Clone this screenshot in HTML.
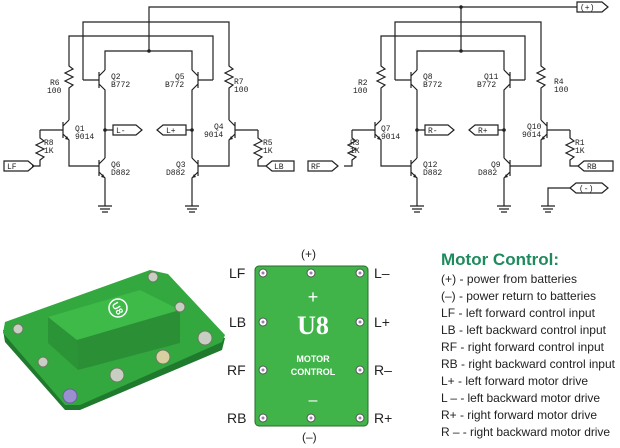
<!DOCTYPE html>
<html><head><meta charset="utf-8"><style>
html,body{margin:0;padding:0;background:#fff;}
svg{display:block;}
.w{stroke:#222;stroke-width:1.2;fill:none;}
.t{font-family:"Liberation Mono",monospace;font-size:8px;fill:#222;}
</style></head><body>
<svg width="620" height="448" viewBox="0 0 620 448" xmlns="http://www.w3.org/2000/svg">
<defs>
<g id="half">
  <path class="w" d="M83 80 V22 H229 V62"/>
  <path class="w" d="M69 62 V36 H213 V80"/>
  <path class="w" d="M105 70 V51 H192 V70"/>
  <path class="w" d="M69 62 V66 l4 3 l-8 4 l8 4 l-8 4 l8 4 l-4 3 V120"/>
  <path class="w" d="M229 62 V66 l4 3 l-8 4 l8 4 l-8 4 l8 4 l-4 3 V120"/>
  <path class="w" d="M83 80 H99 M99 72 V88 M99 76 L105 70 M99 84 L105 90 V158"/>
  <path class="w" d="M213 80 H198 M198 72 V88 M198 76 L192 70 M198 84 L192 90 V158"/>
  <path class="w" d="M40 130 H63 M63 122 V138 M63 126 L69 120 M63 134 L69 140 V166 H99"/>
  <path d="M69 140 l-4 -1 l2 -3 z" fill="#222"/>
  <path class="w" d="M40 130 V138 l4 3 l-8 4 l8 4 l-8 4 l8 4 l-4 3 V166 H32"/>
  <path class="w" d="M99 160 V176 M99 164 L105 158 M99 172 L105 178 V206"/>
  <path d="M105 178 l-4 -1 l2 -3 z" fill="#222"/>
  <path class="w" d="M258 130 H235 M235 122 V138 M235 126 L229 120 M235 134 L229 140 V166 H198"/>
  <path d="M229 140 l4 -1 l-2 -3 z" fill="#222"/>
  <path class="w" d="M258 130 V138 l4 3 l-8 4 l8 4 l-8 4 l8 4 l-4 3 V166 H266"/>
  <path class="w" d="M198 160 V176 M198 164 L192 158 M198 172 L192 178 V206"/>
  <path d="M192 178 l4 -1 l-2 -3 z" fill="#222"/>
  <circle cx="105" cy="130" r="1.8" fill="#222"/>
  <circle cx="192" cy="130" r="1.8" fill="#222"/>
  <path class="w" d="M105 130 H113 M192 130 H186"/>
  <path class="w" d="M98 206 H112 M100 209 H110 M102 212 H108 M185 206 H199 M187 209 H197 M189 212 H195"/>
</g>
</defs>
<path class="w" d="M149 51 V7 H577"/>
<circle cx="149" cy="51" r="1.8" fill="#222"/>
<path class="w" d="M461 7 V51"/>
<circle cx="461" cy="7" r="1.8" fill="#222"/>
<circle cx="461" cy="51" r="1.8" fill="#222"/>
<use href="#half"/>
<use href="#half" transform="translate(312,0)"/>
<path class="w" d="M4 161 H28 L34 166 L28 171 H4 Z"/>
<text class="t" x="7" y="169">LF</text>
<path class="w" d="M113 125 H136 L142 130 L136 135 H113 Z"/>
<text class="t" x="116" y="133">L-</text>
<path class="w" d="M157 130 L163 125 H186 V135 H163 Z"/>
<text class="t" x="166" y="133">L+</text>
<path class="w" d="M266 166 L272 161 H294 V171 H272 Z"/>
<text class="t" x="274" y="169">LB</text>
<path class="w" d="M308 161 H332 L338 166 L332 171 H308 Z"/>
<text class="t" x="311" y="169">RF</text>
<path class="w" d="M425 125 H448 L454 130 L448 135 H425 Z"/>
<text class="t" x="428" y="133">R-</text>
<path class="w" d="M469 130 L475 125 H498 V135 H475 Z"/>
<text class="t" x="478" y="133">R+</text>
<path class="w" d="M578 166 L584 161 H613 V171 H584 Z"/>
<text class="t" x="587" y="169">RB</text>
<path class="w" d="M577 2 H602 L608 7 L602 12 H577 Z"/>
<text class="t" x="580" y="10">(+)</text>
<path class="w" d="M548 206 V188 H570"/>
<path class="w" d="M570 188 L576 183 H602 L608 188 L602 193 H576 Z"/>
<text class="t" x="579" y="191">(-)</text>
<path class="w" d="M541 206 H555 M543 209 H553 M545 212 H551"/>
<text class="t" x="50" y="85">R6</text><text class="t" x="47" y="93">100</text>
<text class="t" x="111" y="79">Q2</text><text class="t" x="111" y="87">B772</text>
<text class="t" x="175" y="79">Q5</text><text class="t" x="165" y="87">B772</text>
<text class="t" x="234" y="84">R7</text><text class="t" x="234" y="92">100</text>
<text class="t" x="75" y="131">Q1</text><text class="t" x="75" y="139">9014</text>
<text class="t" x="44" y="145">R8</text><text class="t" x="44" y="153">1K</text>
<text class="t" x="111" y="167">Q6</text><text class="t" x="111" y="175">D882</text>
<text class="t" x="176" y="167">Q3</text><text class="t" x="166" y="175">D882</text>
<text class="t" x="214" y="129">Q4</text><text class="t" x="204" y="137">9014</text>
<text class="t" x="263" y="145">R5</text><text class="t" x="263" y="153">1K</text>
<text class="t" x="358" y="85">R2</text><text class="t" x="353" y="93">100</text>
<text class="t" x="423" y="79">Q8</text><text class="t" x="423" y="87">B772</text>
<text class="t" x="484" y="79">Q11</text><text class="t" x="477" y="87">B772</text>
<text class="t" x="554" y="84">R4</text><text class="t" x="554" y="92">100</text>
<text class="t" x="381" y="131">Q7</text><text class="t" x="381" y="139">9014</text>
<text class="t" x="350" y="145">R3</text><text class="t" x="350" y="153">1K</text>
<text class="t" x="423" y="167">Q12</text><text class="t" x="423" y="175">D882</text>
<text class="t" x="491" y="167">Q9</text><text class="t" x="478" y="175">D882</text>
<text class="t" x="527" y="129">Q10</text><text class="t" x="522" y="137">9014</text>
<text class="t" x="575" y="145">R1</text><text class="t" x="575" y="153">1K</text>

<!-- photo board -->
<polygon points="3,330 5,342 65,410 80,410 222,350 225,338" fill="#1f7a2e"/>
<polygon points="5,322 150,270 168,274 225,335 222,342 80,405 65,405 3,333" fill="#33a83f"/>
<polygon points="48,317 77,340 78,370 48,343" fill="#2b9436"/>
<polygon points="48,317 140,290 180,310 77,340" fill="#3dba48"/>
<polygon points="77,340 180,310 180,343 78,370" fill="#2a8f35"/>
<circle cx="118" cy="308" r="9" fill="none" stroke="#fff" stroke-width="1.5"/>
<text x="118" y="312" text-anchor="middle" transform="rotate(60 118 308)" font-family="Liberation Sans,sans-serif" font-size="10" font-weight="bold" fill="#fff">U8</text>
<g fill="#c8cfc2" stroke="#6b7a60" stroke-width="1">
<circle cx="18" cy="329" r="5"/><circle cx="43" cy="362" r="5"/>
<circle cx="117" cy="375" r="7"/><circle cx="163" cy="357" r="7" fill="#d8d0a0"/>
<circle cx="205" cy="338" r="7"/><circle cx="180" cy="307" r="5"/><circle cx="153" cy="277" r="5"/>
</g>
<circle cx="70" cy="396" r="7" fill="#9a8fd0" stroke="#6a5fa0"/>

<rect x="255" y="266" width="113" height="160" rx="4" fill="#41b449" stroke="#2a6a2e"/>
<g fill="#fff" stroke="#555" stroke-width="1">
<circle cx="263" cy="273" r="4"/><circle cx="311" cy="273" r="4"/><circle cx="360" cy="273" r="4"/>
<circle cx="263" cy="322" r="4"/><circle cx="360" cy="322" r="4"/>
<circle cx="263" cy="370" r="4"/><circle cx="360" cy="370" r="4"/>
<circle cx="263" cy="418" r="4"/><circle cx="311" cy="418" r="4"/><circle cx="360" cy="418" r="4"/>
</g>
<g fill="#9a7fb0">
<circle cx="263" cy="273" r="1.5"/><circle cx="311" cy="273" r="1.5"/><circle cx="360" cy="273" r="1.5"/>
<circle cx="263" cy="322" r="1.5"/><circle cx="360" cy="322" r="1.5"/>
<circle cx="263" cy="370" r="1.5"/><circle cx="360" cy="370" r="1.5"/>
<circle cx="263" cy="418" r="1.5"/><circle cx="311" cy="418" r="1.5"/><circle cx="360" cy="418" r="1.5"/>
</g>
<g font-family="Liberation Sans,sans-serif" fill="#fff" text-anchor="middle">
<text x="313" y="303" font-size="18">+</text>
<text x="313" y="334" font-size="26" font-weight="bold" font-family="Liberation Serif,serif">U8</text>
<text x="313" y="362" font-size="9" font-weight="bold">MOTOR</text>
<text x="313" y="375" font-size="9" font-weight="bold">CONTROL</text>
<text x="313" y="405" font-size="16">–</text>
</g>
<g font-family="Liberation Sans,sans-serif" font-size="14" fill="#222">
<text x="229" y="278">LF</text><text x="229" y="327">LB</text>
<text x="227" y="375">RF</text><text x="227" y="423">RB</text>
<text x="374" y="278">L–</text><text x="374" y="327">L+</text>
<text x="374" y="375">R–</text><text x="374" y="423">R+</text>
<text x="301" y="258" font-size="12">(+)</text>
<text x="302" y="441" font-size="12">(–)</text>
</g>
<text x="441" y="265" font-family="Liberation Sans,sans-serif" font-size="17" font-weight="bold" fill="#1f8a5e">Motor Control:</text>
<g font-family="Liberation Sans,sans-serif" font-size="12" fill="#222">
<text x="441" y="283" textLength="136">(+) - power from batteries</text>
<text x="441" y="300" textLength="155">(–) - power return to batteries</text>
<text x="441" y="317" textLength="154">LF - left forward control input</text>
<text x="441" y="334" textLength="165">LB - left backward control input</text>
<text x="441" y="351" textLength="163">RF - right forward control input</text>
<text x="441" y="368" textLength="174">RB - right backward control input</text>
<text x="441" y="385" textLength="147">L+ - left forward motor drive</text>
<text x="441" y="402" textLength="159">L – - left backward motor drive</text>
<text x="441" y="419" textLength="156">R+ - right forward motor drive</text>
<text x="441" y="436" textLength="169">R – - right backward motor drive</text>
</g>
</svg>
</body></html>
